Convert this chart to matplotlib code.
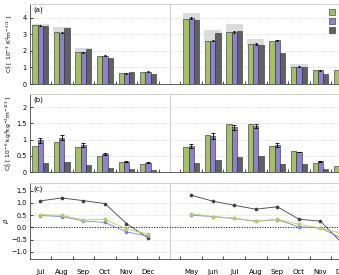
import numpy as np
import matplotlib
matplotlib.use("Agg")
import matplotlib.pyplot as plt
from matplotlib.patches import Patch

plt.rcParams['font.size'] = 5
plt.rcParams['font.family'] = 'DejaVu Sans'

# months: two seasons separated by an empty slot (position 6)
months = ['Jul', 'Aug', 'Sep', 'Oct', 'Nov', 'Dec', '',
          'May', 'Jun', 'Jul', 'Aug', 'Sep', 'Oct', 'Nov', 'Dec']

# panel (a): CT2
ct2_green  = [3.55, 3.11, 1.91, 1.71, 0.64, 0.74, np.nan, 3.92, 2.59, 3.15, 2.39, 2.61, 1.04, 0.84, 0.84]
ct2_purple = [3.51, 3.09, 1.91, 1.71, 0.64, 0.74, np.nan, 3.96, 2.61, 3.15, 2.41, 2.63, 1.04, 0.82, 0.80]
ct2_gray   = [3.49, 3.35, 2.11, 1.55, 0.72, 0.62, np.nan, 3.86, 3.05, 3.19, 2.35, 1.85, 1.00, 0.62, 0.60]
ct2_err    = [0.04, 0.04, 0.03, 0.03, 0.02, 0.02, np.nan, 0.05, 0.04, 0.05, 0.04, 0.04, 0.02, 0.02, 0.02]
ct2_rng_lo = [3.45, 3.05, 1.85, np.nan, np.nan, np.nan, np.nan, 3.80, 2.55, 3.10, 2.30, np.nan, 0.98, np.nan, np.nan]
ct2_rng_hi = [3.62, 3.42, 2.19, np.nan, np.nan, np.nan, np.nan, 4.26, 3.25, 3.61, 2.69, np.nan, 1.19, np.nan, np.nan]

# panel (b): CQ2
cq2_green  = [0.81, 0.91, 0.76, 0.49, 0.32, 0.26, np.nan, 0.78, 1.14, 1.48, 1.48, 0.80, 0.64, 0.27, 0.19]
cq2_purple = [0.97, 1.06, 0.83, 0.55, 0.32, 0.29, np.nan, 0.80, 1.11, 1.37, 1.41, 0.83, 0.62, 0.33, 0.25]
cq2_gray   = [0.28, 0.30, 0.22, 0.13, 0.10, 0.06, np.nan, 0.28, 0.36, 0.46, 0.49, 0.25, 0.25, 0.09, 0.08]
cq2_err    = [0.08, 0.08, 0.06, 0.02, 0.01, 0.01, np.nan, 0.06, 0.08, 0.08, 0.07, 0.05, 0.01, 0.01, 0.01]

# panel (c): rho
rho_black  = [1.08, 1.20, 1.09, 0.97, 0.15, -0.43, np.nan, 1.31, 1.07, 0.90, 0.74, 0.84, 0.33, 0.25, -0.65]
rho_green  = [0.52, 0.49, 0.30, 0.33, -0.08, -0.27, np.nan, 0.56, 0.44, 0.37, 0.25, 0.33, 0.12, -0.03, -0.25]
rho_purple = [0.48, 0.44, 0.26, 0.20, -0.19, -0.36, np.nan, 0.49, 0.44, 0.36, 0.25, 0.31, 0.02, -0.03, -0.45]

c_green = '#a3c35e'
c_purple = '#8c80dc'
c_gray = '#616161'
x = np.arange(len(months))
w = 0.245

fig = plt.figure(figsize=(3.39, 2.75), dpi=100)
left, width = 29.5 / 339, 323.3 / 339
ax_a = fig.add_axes([left, 0.6945, width, 0.29])
ax_b = fig.add_axes([left, 0.3745, width, 0.2836])
ax_c = fig.add_axes([left, 0.0571, width, 0.2764])

for ax in (ax_a, ax_b, ax_c):
    ax.set_xlim(-0.5, 14.5)
    ax.set_xticks(x)
    ax.set_xticks(np.arange(-0.5, 15, 1), minor=True)
    ax.tick_params(axis='x', which='major', length=0, pad=7)
    ax.tick_params(axis='x', which='minor', direction='in', length=2.5, width=0.5)
    ax.tick_params(axis='y', direction='in', length=2, width=0.5, pad=2, labelsize=4.7)
    ax.yaxis.grid(True, linestyle=':', color='#cccccc', linewidth=0.6)
    ax.set_axisbelow(True)
    ax.axvline(6, color='#c0c0c0', linewidth=0.6)
    ax.spines['top'].set_color('#c8c8c8')
    ax.spines['right'].set_visible(False)
    for s in ('left', 'bottom', 'top'):
        ax.spines[s].set_linewidth(0.6)
    ax.spines['left'].set_color('#444444')
    ax.spines['bottom'].set_color('#444444')

ax_a.set_xticklabels([])
ax_b.set_xticklabels([])
ax_c.set_xticklabels(months)

edge = dict(edgecolor='#2a2a2a', linewidth=0.4)

# (a)
lo = np.array(ct2_rng_lo)
hi = np.array(ct2_rng_hi)
ax_a.bar(x, hi - lo, bottom=lo, width=0.8, color='#dcdcdc', zorder=1.5)
ax_a.bar(x - w, ct2_green, w, color=c_green, zorder=2, **edge)
ax_a.bar(x, ct2_purple, w, color=c_purple, zorder=2, **edge)
ax_a.bar(x + w, ct2_gray, w, color=c_gray, zorder=2, **edge)
ax_a.errorbar(x, ct2_purple, yerr=ct2_err, fmt='none', ecolor='black',
              elinewidth=0.8, capsize=1, capthick=0.6, zorder=3)
ax_a.set_ylim(0, 4.8)
ax_a.set_yticks([0, 1, 2, 3, 4])
ax_a.set_ylabel(r'C$_T^2$ [ 10$^{-3}$ K$^2$m$^{-2/3}$ ]', fontsize=4.3)
ax_a.yaxis.set_label_coords(-0.046, 0.5)
ax_a.text(0.012, 0.97, '(a)', transform=ax_a.transAxes, va='top', ha='left')

# (b)
ax_b.bar(x - w, cq2_green, w, color=c_green, zorder=2, **edge)
ax_b.bar(x, cq2_purple, w, color=c_purple, zorder=2, **edge)
ax_b.bar(x + w, cq2_gray, w, color=c_gray, zorder=2, **edge)
ax_b.errorbar(x, cq2_purple, yerr=cq2_err, fmt='none', ecolor='black',
              elinewidth=0.6, capsize=1.2, capthick=0.6, zorder=3)
ax_b.set_ylim(0, 2.4)
ax_b.set_yticks([0, 0.5, 1, 1.5, 2])
ax_b.set_yticklabels(['0', '0.5', '1', '1.5', '2'])
ax_b.set_ylabel(r'C$_Q^2$ [ 10$^{-6}$ kg$^2$kg$^{-2}$m$^{-2/3}$ ]', fontsize=4.3)
ax_b.yaxis.set_label_coords(-0.046, 0.5)
ax_b.text(0.012, 0.97, '(b)', transform=ax_b.transAxes, va='top', ha='left')

# (c)
ax_c.axhline(0, color='black', linestyle=':', linewidth=0.7)
ax_c.plot(x, rho_black, color='#404040', marker='o', markersize=1.6, linewidth=0.6, zorder=3)
ax_c.plot(x, rho_purple, color='#7f7fe0', marker='o', markersize=1.6, linewidth=0.6, zorder=3)
ax_c.plot(x, rho_green, color='#b5cf5f', marker='o', markersize=1.8, linewidth=0.6, zorder=3)
ax_c.set_ylim(-1.31, 1.8)
ax_c.set_yticks([-1.0, -0.5, 0.0, 0.5, 1.0, 1.5])
ax_c.set_ylabel(r'$\rho$')
ax_c.yaxis.set_label_coords(-0.058, 0.5)
ax_c.text(0.012, 0.97, '(c)', transform=ax_c.transAxes, va='top', ha='left')

handles = [Patch(facecolor=c, edgecolor='#2a2a2a', linewidth=0.4) for c in (c_green, c_purple, c_gray)]
fig.legend(handles, ['', '', ''], loc='upper left', bbox_to_anchor=(326 / 339, 1 - 6 / 275),
           frameon=False, handlelength=0.8, handleheight=0.9, labelspacing=0.35,
           borderpad=0, handletextpad=0.3)

fig.savefig('out.png', dpi=100)
